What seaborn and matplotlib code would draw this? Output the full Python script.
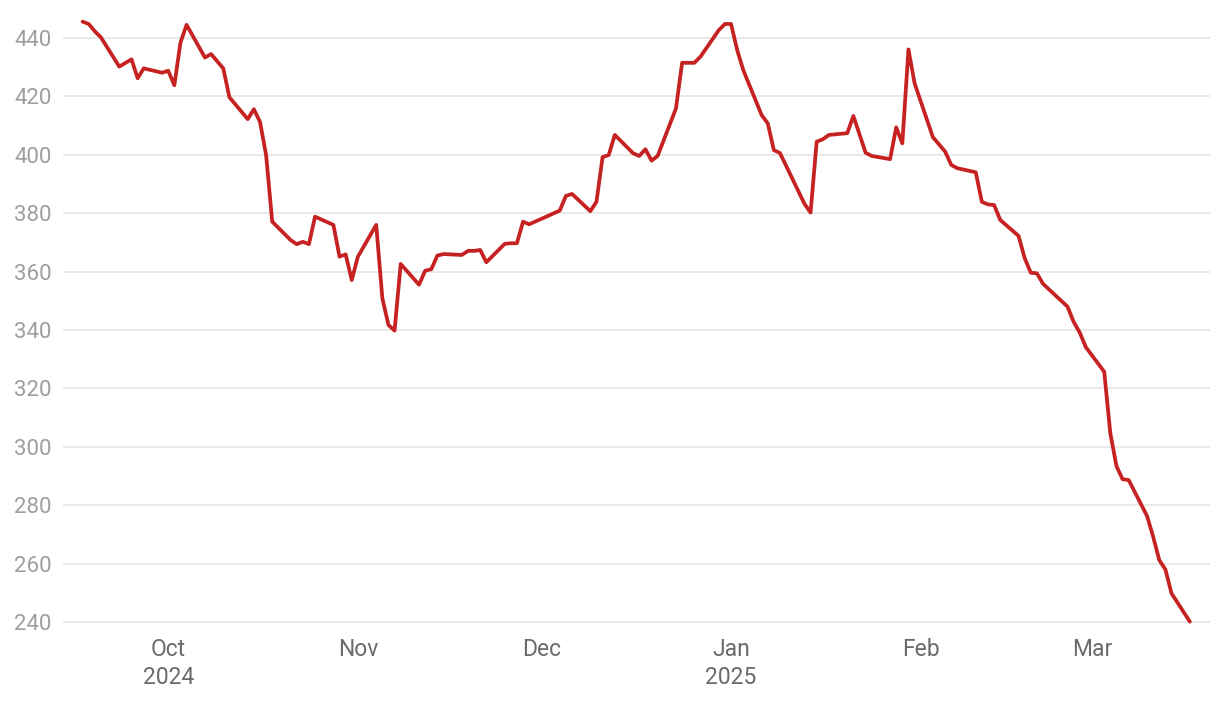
import pandas as pd
import matplotlib.pyplot as plt
import matplotlib.dates as mdates
import seaborn as sns

# values
dates = [
    "2024-09-17", "2024-09-18", "2024-09-19", "2024-09-20", "2024-09-23", "2024-09-25",
    "2024-09-26", "2024-09-27", "2024-09-30", "2024-10-01", "2024-10-02", "2024-10-03",
    "2024-10-04", "2024-10-07", "2024-10-08", "2024-10-10", "2024-10-11", "2024-10-14",
    "2024-10-15", "2024-10-16", "2024-10-17", "2024-10-18", "2024-10-21", "2024-10-22",
    "2024-10-23", "2024-10-24", "2024-10-25", "2024-10-28", "2024-10-29", "2024-10-30",
    "2024-10-31", "2024-11-01", "2024-11-04", "2024-11-05", "2024-11-06", "2024-11-07",
    "2024-11-08", "2024-11-11", "2024-11-12", "2024-11-13", "2024-11-14", "2024-11-15",
    "2024-11-18", "2024-11-19", "2024-11-20", "2024-11-21", "2024-11-22", "2024-11-25",
    "2024-11-26", "2024-11-27", "2024-11-28", "2024-11-29", "2024-12-02", "2024-12-04",
    "2024-12-05", "2024-12-06", "2024-12-09", "2024-12-10", "2024-12-11", "2024-12-12",
    "2024-12-13", "2024-12-16", "2024-12-17", "2024-12-18", "2024-12-19", "2024-12-20",
    "2024-12-23", "2024-12-24", "2024-12-26", "2024-12-27", "2024-12-30", "2024-12-31",
    "2025-01-01", "2025-01-02", "2025-01-03", "2025-01-06", "2025-01-07", "2025-01-08",
    "2025-01-09", "2025-01-13", "2025-01-14", "2025-01-15", "2025-01-16", "2025-01-17",
    "2025-01-20", "2025-01-21", "2025-01-23", "2025-01-24", "2025-01-27", "2025-01-28",
    "2025-01-29", "2025-01-30", "2025-01-31", "2025-02-03", "2025-02-05", "2025-02-06",
    "2025-02-07", "2025-02-10", "2025-02-11", "2025-02-12", "2025-02-13", "2025-02-14",
    "2025-02-17", "2025-02-18", "2025-02-19", "2025-02-20", "2025-02-21", "2025-02-25",
    "2025-02-26", "2025-02-27", "2025-02-28", "2025-03-03", "2025-03-04", "2025-03-05",
    "2025-03-06", "2025-03-07", "2025-03-10", "2025-03-11", "2025-03-12", "2025-03-13",
    "2025-03-14", "2025-03-17",
]
values = [
    445.6, 444.8, 442.3, 440.2, 430.2, 432.7,
    426.2, 429.6, 428.1, 428.8, 423.8, 438.4,
    444.5, 433.3, 434.5, 429.6, 419.7, 412.2,
    415.6, 411.3, 399.9, 377.1, 370.8, 369.4,
    370.2, 369.4, 378.8, 376.0, 365.1, 365.9,
    357.1, 365.1, 376.0, 350.9, 341.7, 339.8,
    362.6, 355.5, 360.3, 360.8, 365.5, 366.0,
    365.7, 367.1, 367.1, 367.4, 363.2, 369.5,
    369.7, 369.7, 377.1, 376.2, 379.0, 380.9,
    385.9, 386.6, 380.7, 383.9, 399.2, 399.9,
    406.8, 400.5, 399.6, 401.9, 398.0, 399.6,
    415.9, 431.5, 431.5, 433.6, 442.7, 444.8,
    444.8, 435.9, 429.0, 413.6, 410.8, 401.6,
    400.6, 383.2, 380.2, 404.5, 405.3, 406.8,
    407.4, 413.3, 400.7, 399.6, 398.5, 409.4,
    403.9, 436.1, 424.5, 406.0, 401.1, 396.5,
    395.4, 394.0, 383.9, 383.0, 382.8, 377.7,
    372.2, 364.6, 359.6, 359.4, 355.8, 348.0,
    342.8, 339.1, 334.1, 325.7, 304.6, 293.4,
    288.9, 288.6, 276.3, 269.2, 261.2, 258.0,
    249.8, 240.1,
]
y_ticks = [240, 260, 280, 300, 320, 340, 360, 380, 400, 420, 440]
month_ticks = ["2024-10-01", "2024-11-01", "2024-12-01", "2025-01-01", "2025-02-01", "2025-03-01"]
month_labels = ["Oct\n2024", "Nov", "Dec", "Jan\n2025", "Feb", "Mar"]

df = pd.DataFrame({"date": pd.to_datetime(dates), "value": values})

sns.set_theme(style="white")
plt.rcParams["font.family"] = ["Roboto", "DejaVu Sans"]

fig = plt.figure(figsize=(12.2, 7.02), dpi=100)
ax = fig.add_axes([0.0516, 0.1036, 0.9402, 0.8714])

sns.lineplot(data=df, x="date", y="value", color="#c62222", linewidth=2.7, ax=ax)

ax.set_ylim(237.5, 447)
ax.set_xlim(pd.Timestamp("2024-09-13 19:00"), pd.Timestamp("2025-03-20 07:00"))
ax.set_yticks(y_ticks)
ax.set_xticks(pd.to_datetime(month_ticks))
ax.set_xticklabels(month_labels, linespacing=1.3)

ax.grid(axis="y", color="#e3e3e3", linewidth=1.1)
ax.grid(axis="x", visible=False)
ax.set_axisbelow(True)
for s in ax.spines.values():
    s.set_visible(False)

ax.tick_params(axis="y", length=0, pad=8, labelsize=16, labelcolor="#9e9e9e")
ax.tick_params(axis="x", length=0, pad=6, labelsize=16.5, labelcolor="#6b6b6b")
ax.set_xlabel("")
ax.set_ylabel("")

plt.savefig("out.png", dpi=100)
